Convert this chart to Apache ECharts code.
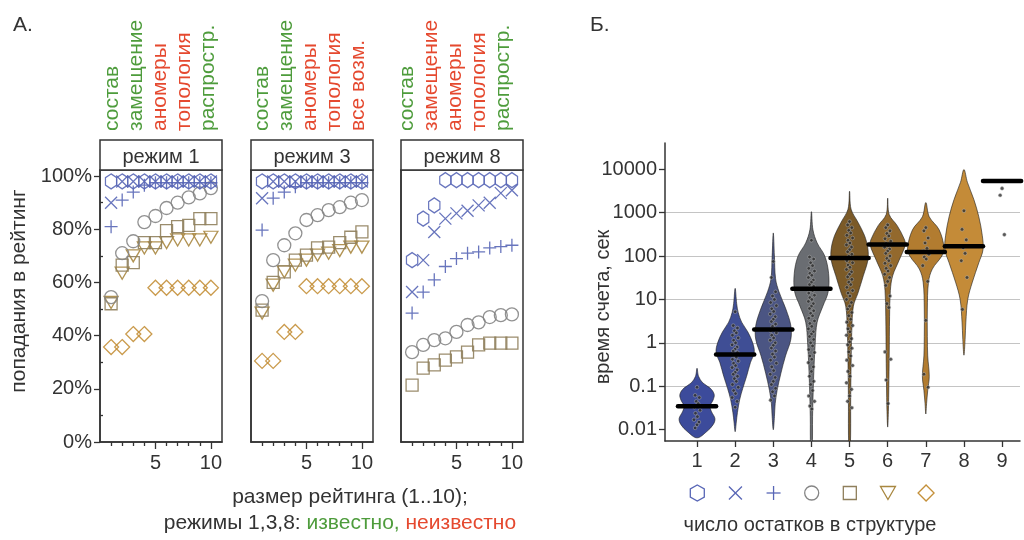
<!DOCTYPE html>
<html>
<head>
<meta charset="utf-8">
<script src="https://cdn.jsdelivr.net/npm/echarts@6/dist/echarts.min.js"></script>
<style>
  html, body { margin: 0; background: #fff; }
  #chart { width: 1024px; height: 540px; }
</style>
</head>
<body>
<div id="chart"></div>
<script>
// ---- panel A: hit rate (%) vs ranking size 1..10 ----
var ranks = [1, 2, 3, 4, 5, 6, 7, 8, 9, 10];
var modeNames = ["режим 1", "режим 3", "режим 8"];

var hex1   = [98, 98, 98, 98, 98, 98, 98, 98, 98, 98];
var cross1 = [90, 98, 98, 98, 98, 98, 98, 98, 98, 98];
var plus1  = [81, 91, 94, 96.6, 97.5, 97.5, 97.5, 97.5, 97.5, 97.5];
var circ1  = [54.5, 71, 75.5, 82.7, 85, 88, 90, 92, 93.5, 95.5];
var sq1    = [52, 66.5, 67.5, 75, 75, 79.5, 81, 81.5, 84, 84];
var tri1   = [52.5, 63.5, 70, 73, 73, 75, 76, 76, 76, 77];
var dia1   = [35.7, 35.7, 40.6, 40.6, 58, 58, 58, 58, 58, 58];

var hex3   = [98, 98, 98, 98, 98, 98, 98, 98, 98, 98];
var cross3 = [91.7, 98, 98, 98, 98, 98, 98, 98, 98, 98];
var plus3  = [79.7, 91.7, 94, 96, 97.5, 97.5, 97.5, 97.5, 97.5, 97.5];
var circ3  = [53, 68.4, 74, 78.5, 83.5, 85.3, 87.2, 88.3, 90, 91];
var sq3    = [49.6, 60, 64, 68.4, 70.3, 73, 73.3, 75, 77, 79];
var tri3   = [48.5, 59, 64, 66.5, 68.4, 70.3, 71, 72, 73.3, 73.3];
var dia3   = [30.5, 30.5, 41.4, 41.4, 58.6, 58.6, 58.6, 58.6, 58.6, 58.6];

var hex8   = [68.4, 84, 89, 98.5, 98.5, 98.5, 98.5, 98.5, 98.5, 98.5];
var cross8 = [56.4, 68.4, 79, 84, 86, 87, 89, 90, 93.6, 94.7];
var plus8  = [48.5, 56.4, 61, 66, 69, 71, 71.5, 73, 73.5, 74];
var circ8  = [33.8, 36.5, 38.3, 39, 41.4, 44, 45, 47, 47.7, 48];
var sq8    = [21.4, 27.8, 29, 30.8, 32, 33.8, 36.5, 37.2, 37.2, 37.2];

var yTicksA = [0, 20, 40, 60, 80, 100];

// header labels above each panel, known (g) / unknown (r)
var heads1 = [["состав", "g"], ["замещение", "g"], ["аномеры", "r"], ["топология", "r"], ["распростр.", "g"]];
var heads3 = [["состав", "g"], ["замещение", "g"], ["аномеры", "r"], ["топология", "r"], ["все возм.", "r"]];
var heads8 = [["состав", "g"], ["замещение", "r"], ["аномеры", "r"], ["топология", "r"], ["распростр.", "g"]];

// ---- panel B: run time (s) per number of residues ----
var residues = [1, 2, 3, 4, 5, 6, 7, 8, 9];
var yTicksB = [0.01, 0.1, 1, 10, 100, 1000, 10000];
var medians = [0.0345, 0.54, 2.04, 17.6, 90, 183, 124, 168, 5300];

// violin outlines: [time, half width]
var violin1 = [[0.26,0],[0.17,0.04],[0.12,0.15],[0.09,0.35],[0.065,0.45],[0.048,0.42],[0.035,0.34],[0.026,0.38],[0.018,0.47],[0.013,0.42],[0.009,0.25],[0.0065,0]];
var violin2 = [[18,0],[8,0.04],[5,0.08],[3,0.17],[1.8,0.33],[1.0,0.46],[0.6,0.5],[0.35,0.4],[0.17,0.3],[0.09,0.2],[0.05,0.12],[0.025,0.06],[0.015,0.03],[0.009,0]];
var violin3 = [[340,0],[100,0.03],[30,0.06],[15,0.15],[6,0.33],[2.5,0.46],[1.2,0.46],[0.5,0.32],[0.2,0.2],[0.08,0.1],[0.04,0.05],[0.02,0.03],[0.01,0]];
var violin4 = [[1050,0],[400,0.04],[200,0.15],[100,0.35],[40,0.45],[15,0.44],[7,0.3],[3,0.15],[1,0.1],[0.3,0.07],[0.1,0.05],[0.02,0.03],[0.004,0.02]];
var violin5 = [[3100,0],[1200,0.04],[600,0.22],[300,0.39],[150,0.48],[80,0.48],[35,0.36],[14,0.22],[7,0.1],[2,0.06],[0.3,0.04],[0.05,0.03],[0.004,0.02]];
var violin6 = [[2150,0],[900,0.04],[500,0.25],[250,0.43],[180,0.46],[80,0.3],[35,0.13],[16,0.07],[4,0.05],[0.5,0.04],[0.1,0.03],[0.03,0.02],[0.0115,0]];
var violin7 = [[1700,0],[800,0.09],[400,0.35],[150,0.48],[100,0.42],[50,0.17],[25,0.07],[6,0.04],[1.4,0.04],[0.5,0.05],[0.17,0.09],[0.08,0.05],[0.04,0.02],[0.023,0]];
var violin8 = [[9800,0],[5000,0.09],[2000,0.26],[800,0.39],[300,0.48],[140,0.5],[70,0.39],[25,0.22],[10,0.1],[3,0.05],[1.2,0.03],[0.52,0]];

// individual runs
var dots1 = [0.095, 0.062, 0.055, 0.045, 0.04, 0.033, 0.028, 0.024, 0.02, 0.017, 0.015, 0.013, 0.011];
var dots2 = [5.2, 2.5, 2.2, 1.9, 1.7, 1.5, 1.3, 1.15, 1.0, 0.9, 0.8, 0.72, 0.65, 0.6, 0.52, 0.47, 0.42, 0.38, 0.34, 0.3, 0.27, 0.24, 0.21, 0.19, 0.17, 0.15, 0.13, 0.11, 0.095, 0.08, 0.068, 0.055, 0.045, 0.033];
var dots3 = [75, 32, 15, 12, 10, 8.5, 7.2, 6.1, 5.3, 4.6, 4.0, 3.5, 3.1, 2.7, 2.4, 2.1, 1.9, 1.7, 1.5, 1.3, 1.15, 1.0, 0.88, 0.76, 0.65, 0.55, 0.47, 0.4, 0.34, 0.28, 0.23, 0.19, 0.16, 0.13, 0.11, 0.09, 0.075, 0.06, 0.048];
var dots4 = [230, 95, 85, 70, 60, 52, 45, 40, 36, 32, 28, 25, 22, 20, 18, 16, 14, 12.5, 11, 10, 9, 8, 7, 6.2, 5.5, 4.8, 4.2, 3.7, 3.2, 2.8, 2.4, 2.1, 1.8, 1.6, 1.4, 1.2, 1.0, 0.85, 0.7, 0.6, 0.5, 0.42, 0.35, 0.28, 0.22, 0.17, 0.13, 0.11, 0.08, 0.06, 0.045, 0.035, 0.03];
var dots5 = [620, 520, 450, 390, 340, 300, 260, 230, 200, 180, 160, 140, 125, 110, 98, 88, 78, 70, 62, 55, 49, 43, 38, 33, 29, 25, 22, 19, 16, 14, 12, 10, 8.5, 7, 6, 5, 4.2, 3.5, 3, 2.5, 2.1, 1.8, 1.5, 1.25, 1.05, 0.9, 0.75, 0.62, 0.5, 0.4, 0.3, 0.22, 0.17, 0.12, 0.085, 0.06, 0.045, 0.032];
var dots6 = [520, 450, 380, 330, 290, 250, 220, 195, 175, 160, 145, 130, 115, 100, 88, 78, 68, 60, 52, 45, 38, 32, 26, 21, 12, 8, 6.5, 0.62, 0.42, 0.14, 0.04];
var dots7 = [450, 380, 260, 200, 150, 130, 110, 95, 85, 60, 26, 3.3, 0.19, 0.095];
var dots8 = [1100, 410, 235, 155, 115, 78, 32, 5.9];
var dots9 = [3600, 2500, 310];

// ---- styles ----
var FONT = '"Liberation Sans", Arial, sans-serif';
var INK = "#333";
var GREEN = "#4e9c3c";
var RED = "#e5492f";
var BLUE = "#5866b6";
var TICK_FS = 20;
var hexPath = "path://M0,-10L8.66,-5L8.66,5L0,10L-8.66,5L-8.66,-5Z";
var crossPath = "path://M-10,-10L10,10M10,-10L-10,10";
var plusPath = "path://M-10,0L10,0M0,-10L0,10";
var markers = [
  { symbol: "diamond", size: 15, color: "#c4903a", rot: 0 },
  { symbol: "triangle", size: [14, 12], color: "#a88740", rot: 180 },
  { symbol: "rect", size: 12, color: "#8f7f5c", rot: 0 },
  { symbol: "circle", size: 13, color: "#858585", rot: 0 },
  { symbol: plusPath, size: 13, color: BLUE, rot: 0 },
  { symbol: crossPath, size: 12, color: BLUE, rot: 0 },
  { symbol: hexPath, size: [13, 15], color: BLUE, rot: 0 }
];
var panelSets = [
  [dia1, tri1, sq1, circ1, plus1, cross1, hex1],
  [dia3, tri3, sq3, circ3, plus3, cross3, hex3],
  [null, null, sq8, circ8, plus8, cross8, hex8]
];
var panelLeft = [100, 251, 401];
var panelW = 122;
var headStartX = [112, 262, 407];
var headSets = [heads1, heads3, heads8];
var violinColors = ["#3c4b9b", "#3f4e95", "#4b5583", "#6a6d72", "#7b5a28", "#93692d", "#b27c30", "#c48b38"];
var violins = [violin1, violin2, violin3, violin4, violin5, violin6, violin7, violin8, null];
var dotSets = [dots1, dots2, dots3, dots4, dots5, dots6, dots7, dots8, dots9];
var DOT_JITTER = [0, -0.05, 0.06, -0.02, 0.03, -0.07, 0.08, -0.04, 0.01, -0.08, 0.05];

var grids = [], xAxes = [], yAxes = [], series = [], graphics = [];

panelLeft.forEach(function (left, p) {
  grids.push({ left: left, top: 170, width: panelW, bottom: 98, show: true, borderColor: INK, borderWidth: 1.5, containLabel: false });
  xAxes.push({
    gridIndex: p, type: "value", min: 0, max: 11, position: "bottom",
    axisLine: { show: true, lineStyle: { color: INK, width: 1.5 } },
    axisTick: { show: true, length: 7, customValues: [5, 10], lineStyle: { color: INK, width: 1.3 } },
    axisLabel: { customValues: [5, 10], fontSize: TICK_FS, color: INK, fontFamily: FONT, margin: 11 },
    splitLine: { show: false }
  });
  xAxes.push({
    gridIndex: p, type: "value", min: 0, max: 11, position: "bottom",
    axisLine: { show: false },
    axisTick: { show: true, length: 4, customValues: [1, 2, 3, 4, 6, 7, 8, 9], lineStyle: { color: INK, width: 1.3 } },
    axisLabel: { show: false }, splitLine: { show: false }
  });
  yAxes.push({
    gridIndex: p, type: "value", min: 0, max: 102.3,
    axisLine: { show: true, lineStyle: { color: INK, width: 1.5 } },
    axisTick: p === 0 ? { show: true, length: 6, customValues: yTicksA, lineStyle: { color: INK, width: 1.3 } } : { show: false },
    axisLabel: p === 0 ? { show: true, customValues: yTicksA, formatter: "{value}%", fontSize: TICK_FS, color: INK, fontFamily: FONT, margin: 8 } : { show: false },
    splitLine: { show: false }
  });

  panelSets[p].forEach(function (vals, k) {
    if (!vals) return;
    var m = markers[k];
    series.push({
      type: "scatter", xAxisIndex: 2 * p, yAxisIndex: p,
      symbol: m.symbol, symbolSize: m.size, symbolRotate: m.rot, symbolKeepAspect: true,
      itemStyle: { color: "transparent", borderColor: m.color, borderWidth: 1.3, opacity: 0.9 },
      data: ranks.map(function (r, i) { return [r, vals[i]]; }),
      silent: true, z: 3 + k
    });
  });

  // header box
  graphics.push({ type: "rect", shape: { x: left, y: 140, width: panelW, height: 30 },
    style: { fill: "#fff", stroke: INK, lineWidth: 1.5 }, z: 10 });
  graphics.push({ type: "text", x: left + panelW / 2, y: 157, z: 11,
    style: { text: modeNames[p], fill: INK, font: '20px ' + FONT, textAlign: "center", textVerticalAlign: "middle", align: "center", verticalAlign: "middle" } });
  headSets[p].forEach(function (h, i) {
    graphics.push({ type: "text", x: headStartX[p] + i * 24, y: 131, rotation: Math.PI / 2, z: 11,
      style: { text: h[0], fill: h[1] === "g" ? GREEN : RED, font: '21px ' + FONT,
        textAlign: "left", textVerticalAlign: "middle", align: "left", verticalAlign: "middle" } });
  });
});

// extra y axis for minor ticks in panel 1
yAxes.push({
  gridIndex: 0, type: "value", min: 0, max: 102.3,
  axisLine: { show: false },
  axisTick: { show: true, length: 3, customValues: [10, 30, 50, 70, 90], lineStyle: { color: INK, width: 1.3 } },
  axisLabel: { show: false }, splitLine: { show: false }
});

// panel B
grids.push({ left: 665, top: 143, right: 4, bottom: 99 });
xAxes.push({
  gridIndex: 3, type: "value", min: 0.16, max: 9.47,
  axisLine: { show: true, lineStyle: { color: INK, width: 1.5 } },
  axisTick: { show: true, length: 6, customValues: residues, lineStyle: { color: INK, width: 1.3 } },
  axisLabel: { customValues: residues, fontSize: TICK_FS, color: INK, fontFamily: FONT, margin: 10 },
  splitLine: { show: false }
});
yAxes.push({
  gridIndex: 3, type: "log", logBase: 10, min: 0.0055, max: 40000,
  axisLine: { show: true, lineStyle: { color: INK, width: 1.5 } },
  axisTick: { show: true, length: 6, customValues: yTicksB, lineStyle: { color: INK, width: 1.3 } },
  axisLabel: { customValues: yTicksB, fontSize: TICK_FS, color: INK, fontFamily: FONT, margin: 8,
    formatter: function (v) { return String(+(+v).toPrecision(3)); } },
  splitLine: { show: true, showMinLine: false, showMaxLine: false, lineStyle: { color: "#c4c4c4", width: 1 } }
});
var bx = xAxes.length - 1, by = yAxes.length - 1;

series.push({
  type: "custom", xAxisIndex: bx, yAxisIndex: by, clip: true, z: 2, silent: true,
  data: residues.map(function (r, i) { return [r, medians[i]]; }),
  renderItem: function (params, api) {
    var prof = violins[params.dataIndex];
    if (!prof) return null;
    var c = api.value(0);
    var pts = prof.map(function (q) { return api.coord([c + q[1], q[0]]); });
    prof.slice().reverse().forEach(function (q) {
      if (q[1] > 0) pts.push(api.coord([c - q[1], q[0]]));
    });
    return { type: "polygon", shape: { points: pts, smooth: 0.35 },
      style: { fill: violinColors[params.dataIndex], stroke: "rgba(30,30,30,0.75)", lineWidth: 0.8 } };
  }
});

var dotData = [];
dotSets.forEach(function (arr, i) {
  arr.forEach(function (v, j) { dotData.push([residues[i] + DOT_JITTER[j % DOT_JITTER.length], v]); });
});
series.push({
  type: "scatter", xAxisIndex: bx, yAxisIndex: by, z: 4, silent: true,
  symbol: "circle", symbolSize: 3.6,
  itemStyle: { color: "#2e2e2e", borderColor: "rgba(190,190,190,0.9)", borderWidth: 0.6 },
  data: dotData
});

series.push({
  type: "custom", xAxisIndex: bx, yAxisIndex: by, z: 5, silent: true,
  data: residues.map(function (r, i) { return [r, medians[i]]; }),
  renderItem: function (params, api) {
    var c = api.value(0), m = api.value(1);
    var a = api.coord([c - 0.5, m]), b = api.coord([c + 0.5, m]);
    return { type: "line", shape: { x1: a[0], y1: a[1], x2: b[0], y2: b[1] },
      style: { stroke: "#000", lineWidth: 4.5, lineCap: "round" } };
  }
});

// legend row under panel B (symbols aligned with residues 1..7)
var lx = function (i) { return 697.3 + 38.13 * i; };
var LY = 493;
function poly(pts, color) {
  return { type: "polygon", shape: { points: pts }, style: { fill: "none", stroke: color, lineWidth: 1.3 } };
}
graphics.push(poly([[lx(0), LY - 8], [lx(0) + 7, LY - 4], [lx(0) + 7, LY + 4], [lx(0), LY + 8], [lx(0) - 7, LY + 4], [lx(0) - 7, LY - 4]], BLUE));
graphics.push({ type: "line", shape: { x1: lx(1) - 6.5, y1: LY - 6.5, x2: lx(1) + 6.5, y2: LY + 6.5 }, style: { stroke: BLUE, lineWidth: 1.3 } });
graphics.push({ type: "line", shape: { x1: lx(1) + 6.5, y1: LY - 6.5, x2: lx(1) - 6.5, y2: LY + 6.5 }, style: { stroke: BLUE, lineWidth: 1.3 } });
graphics.push({ type: "line", shape: { x1: lx(2) - 7, y1: LY, x2: lx(2) + 7, y2: LY }, style: { stroke: BLUE, lineWidth: 1.3 } });
graphics.push({ type: "line", shape: { x1: lx(2), y1: LY - 7, x2: lx(2), y2: LY + 7 }, style: { stroke: BLUE, lineWidth: 1.3 } });
graphics.push({ type: "circle", shape: { cx: lx(3), cy: LY, r: 7 }, style: { fill: "none", stroke: "#858585", lineWidth: 1.3 } });
graphics.push({ type: "rect", shape: { x: lx(4) - 6.5, y: LY - 6.5, width: 13, height: 13 }, style: { fill: "none", stroke: "#8f7f5c", lineWidth: 1.3 } });
graphics.push(poly([[lx(5) - 7.5, LY - 6.5], [lx(5) + 7.5, LY - 6.5], [lx(5), LY + 6.5]], "#a88740"));
graphics.push(poly([[lx(6), LY - 8], [lx(6) + 8, LY], [lx(6), LY + 8], [lx(6) - 8, LY]], "#c4903a"));

// captions
function label(txt, x, y, size, align, rot) {
  return { type: "text", x: x, y: y, rotation: rot || 0, style: { text: txt, fill: INK, font: size + 'px ' + FONT,
    textAlign: align, textVerticalAlign: "middle", align: align, verticalAlign: "middle" } };
}
graphics.push(label("А.", 13, 25, 21, "left"));
graphics.push(label("Б.", 590, 25, 21, "left"));
graphics.push(label("попадания в рейтинг", 19, 291, 21, "center", Math.PI / 2));
graphics.push(label("время счета, сек", 603, 307, 20, "center", Math.PI / 2));
graphics.push(label("размер рейтинга (1..10);", 350, 497, 21, "center"));
graphics.push({ type: "text", x: 340, y: 523, style: {
  text: "{a|режимы 1,3,8: }{g|известно, }{r|неизвестно}", textAlign: "center", textVerticalAlign: "middle", align: "center", verticalAlign: "middle",
  rich: { a: { fill: INK, color: INK, fontSize: 21, fontFamily: FONT }, g: { fill: GREEN, color: GREEN, fontSize: 21, fontFamily: FONT }, r: { fill: RED, color: RED, fontSize: 21, fontFamily: FONT } } } });
graphics.push(label("число остатков в структуре", 810, 525, 20, "center"));

var chart = echarts.init(document.getElementById("chart"));
chart.setOption({
  animation: false,
  backgroundColor: "#fff",
  textStyle: { fontFamily: FONT },
  grid: grids,
  xAxis: xAxes,
  yAxis: yAxes,
  series: series,
  graphic: { elements: graphics }
});
</script>
</body>
</html>
